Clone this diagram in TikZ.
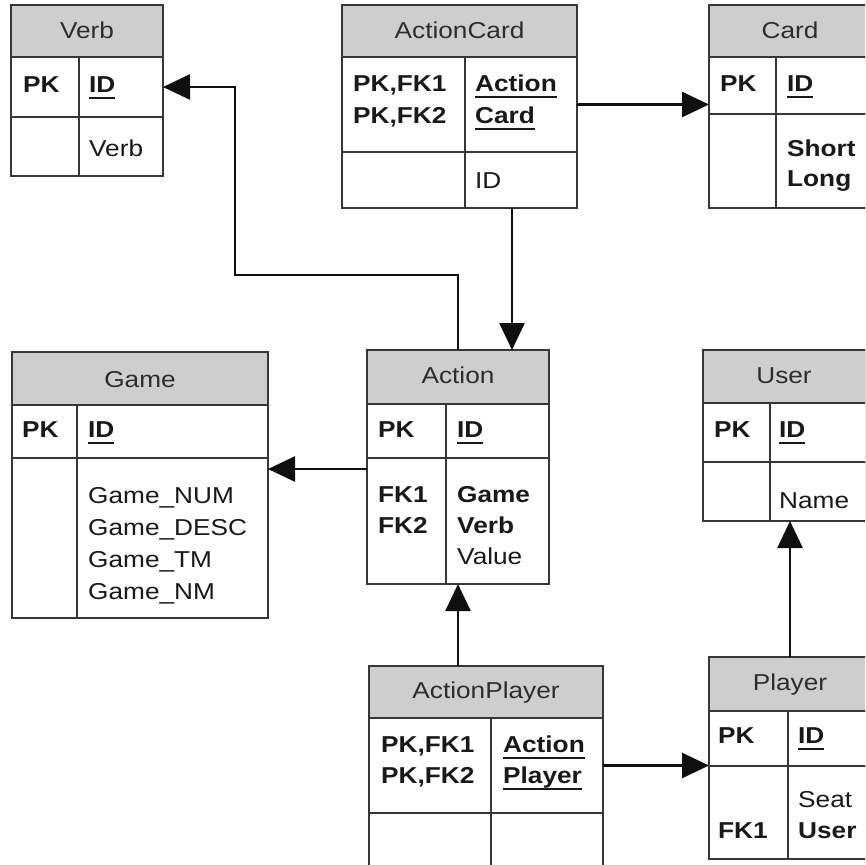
\documentclass[tikz,border=0pt]{standalone}
\usepackage{fontspec}
\setmainfont{Liberation Sans}[FakeStretch=1.14]
\usetikzlibrary{arrows.meta}

\definecolor{boxc}{RGB}{55,55,55}
\definecolor{hdrc}{RGB}{206,206,206}
\definecolor{txtc}{RGB}{25,25,25}
\definecolor{ttlc}{RGB}{45,45,45}
\definecolor{linec}{RGB}{15,15,15}

% bold, underlined primary-key field
\newcommand\keyfield[1]{\setbox0\hbox{\bfseries #1}\rlap{\vrule height -4.6pt depth 6.8pt width \wd0}\box0}

\tikzset{
  tbl/.style={draw=boxc, line width=2.1pt, inner sep=0pt, outer sep=0pt, anchor=north west},
  hdr/.style={tbl, fill=hdrc},
  lbl/.style={anchor=base west, inner sep=0pt, text=txtc},
  ttl/.style={anchor=base, inner sep=0pt, text=ttlc},
  sep/.style={draw=boxc, line width=2.1pt},
  conn/.style={draw=linec, line width=2.6pt, -{Triangle[length=27pt,width=25pt]}},
}

\begin{document}
\begin{tikzpicture}[x=1pt, y=-1pt, font=\fontsize{23}{31}\selectfont]
\useasboundingbox (0,0) rectangle (865,865);
\clip (0,0) rectangle (865,865);
\fill[white] (0,0) rectangle (865,865);

% ---------- Verb ----------
\node[hdr, minimum width=152pt, minimum height=52pt] (verb-h) at (11,5) {};
\node[tbl, minimum width=152pt, minimum height=60pt] (verb-pk) at (11,57) {};
\node[tbl, minimum width=152pt, minimum height=59pt] (verb-r2) at (11,117) {};
\draw[sep] (79,57) -- (79,176);
\node[ttl] (verb-t) at (87,38) {Verb};
\node[lbl] (verb-k) at (23,92) {\bfseries PK};
\node[lbl] (verb-id) at (89,92) {\keyfield{ID}};
\node[lbl] (verb-f) at (89,156) {Verb};

% ---------- ActionCard ----------
\node[hdr, minimum width=235pt, minimum height=52pt] (ac-h) at (342,5) {};
\node[tbl, minimum width=235pt, minimum height=95pt] (ac-pk) at (342,57) {};
\node[tbl, minimum width=235pt, minimum height=56pt] (ac-r2) at (342,152) {};
\draw[sep] (465,57) -- (465,208);
\node[ttl] (ac-t) at (459.5,38) {ActionCard};
\node[lbl] (ac-k1) at (353,91) {\bfseries PK,FK1};
\node[lbl] (ac-k2) at (353,123) {\bfseries PK,FK2};
\node[lbl] (ac-f1) at (475,91) {\keyfield{Action}};
\node[lbl] (ac-f2) at (475,123) {\keyfield{Card}};
\node[lbl] (ac-f3) at (475,188) {ID};

% ---------- Card ----------
\node[hdr, minimum width=162pt, minimum height=52pt] (card-h) at (709,5) {};
\node[tbl, minimum width=162pt, minimum height=57pt] (card-pk) at (709,57) {};
\node[tbl, minimum width=162pt, minimum height=94pt] (card-r2) at (709,114) {};
\draw[sep] (776,57) -- (776,208);
\node[ttl] (card-t) at (790,38) {Card};
\node[lbl] (card-k) at (720,91) {\bfseries PK};
\node[lbl] (card-id) at (787,91) {\keyfield{ID}};
\node[lbl] (card-f1) at (787,156) {\bfseries Short};
\node[lbl] (card-f2) at (787,186) {\bfseries Long};

% ---------- Game ----------
\node[hdr, minimum width=256pt, minimum height=53pt] (game-h) at (12,352) {};
\node[tbl, minimum width=256pt, minimum height=53pt] (game-pk) at (12,405) {};
\node[tbl, minimum width=256pt, minimum height=160pt] (game-r2) at (12,458) {};
\draw[sep] (77,405) -- (77,618);
\node[ttl] (game-t) at (140,387) {Game};
\node[lbl] (game-k) at (22,437) {\bfseries PK};
\node[lbl] (game-id) at (88,437) {\keyfield{ID}};
\node[lbl] (game-f1) at (88,503) {Game\_NUM};
\node[lbl] (game-f2) at (88,535) {Game\_DESC};
\node[lbl] (game-f3) at (88,567) {Game\_TM};
\node[lbl] (game-f4) at (88,599) {Game\_NM};

% ---------- Action ----------
\node[hdr, minimum width=182pt, minimum height=54pt] (action-h) at (367,350) {};
\node[tbl, minimum width=182pt, minimum height=54pt] (action-pk) at (367,404) {};
\node[tbl, minimum width=182pt, minimum height=126pt] (action-r2) at (367,458) {};
\draw[sep] (446,404) -- (446,584);
\node[ttl] (action-t) at (458,383) {Action};
\node[lbl] (action-k) at (378,437) {\bfseries PK};
\node[lbl] (action-id) at (457,437) {\keyfield{ID}};
\node[lbl] (action-k1) at (378,502) {\bfseries FK1};
\node[lbl] (action-k2) at (378,533) {\bfseries FK2};
\node[lbl] (action-f1) at (457,502) {\bfseries Game};
\node[lbl] (action-f2) at (457,533) {\bfseries Verb};
\node[lbl] (action-f3) at (457,564) {Value};

% ---------- User ----------
\node[hdr, minimum width=163pt, minimum height=53pt] (user-h) at (703,350) {};
\node[tbl, minimum width=163pt, minimum height=59pt] (user-pk) at (703,403) {};
\node[tbl, minimum width=163pt, minimum height=59pt] (user-r2) at (703,462) {};
\draw[sep] (770,403) -- (770,521);
\node[ttl] (user-t) at (784,383) {User};
\node[lbl] (user-k) at (714,437) {\bfseries PK};
\node[lbl] (user-id) at (779,437) {\keyfield{ID}};
\node[lbl] (user-f1) at (779,508) {Name};

% ---------- ActionPlayer ----------
\node[hdr, minimum width=234pt, minimum height=52pt] (ap-h) at (369,666) {};
\node[tbl, minimum width=234pt, minimum height=95pt] (ap-pk) at (369,718) {};
\node[tbl, minimum width=234pt, minimum height=70pt] (ap-r2) at (369,813) {};
\draw[sep] (491,718) -- (491,883);
\node[ttl] (ap-t) at (486,698) {ActionPlayer};
\node[lbl] (ap-k1) at (381,752) {\bfseries PK,FK1};
\node[lbl] (ap-k2) at (381,783) {\bfseries PK,FK2};
\node[lbl] (ap-f1) at (503,752) {\keyfield{Action}};
\node[lbl] (ap-f2) at (503,783) {\keyfield{Player}};

% ---------- Player ----------
\node[hdr, minimum width=162pt, minimum height=54pt] (player-h) at (709,657) {};
\node[tbl, minimum width=162pt, minimum height=55pt] (player-pk) at (709,711) {};
\node[tbl, minimum width=162pt, minimum height=93pt] (player-r2) at (709,766) {};
\draw[sep] (788,711) -- (788,859);
\node[ttl] (player-t) at (790,690) {Player};
\node[lbl] (player-k) at (718,743) {\bfseries PK};
\node[lbl] (player-id) at (798,743) {\keyfield{ID}};
\node[lbl] (player-f1) at (798,807) {Seat};
\node[lbl] (player-k1) at (718,838) {\bfseries FK1};
\node[lbl] (player-f2) at (798,838) {\bfseries User};

% ---------- relationships ----------
\coordinate (bend) at (235,275);
\coordinate (acx) at (512,0);
\coordinate (gy) at (0,469);

\draw[conn] (action-h.north) |- (bend) |- (verb-pk.east);
\draw[conn] (ac-r2.south -| acx) -- (action-h.north -| acx);
\draw[conn] (ac-pk.east) -- (ac-pk.east -| card-pk.west);
\draw[conn] (action-r2.west |- gy) -- (game-r2.east |- gy);
\draw[conn] (ap-h.north -| action-r2.south) -- (action-r2.south);
\draw[conn] (ap-pk.east) -- (ap-pk.east -| player-h.west);
\draw[conn] (player-h.north) -- (player-h.north |- user-r2.south);
\end{tikzpicture}
\end{document}
